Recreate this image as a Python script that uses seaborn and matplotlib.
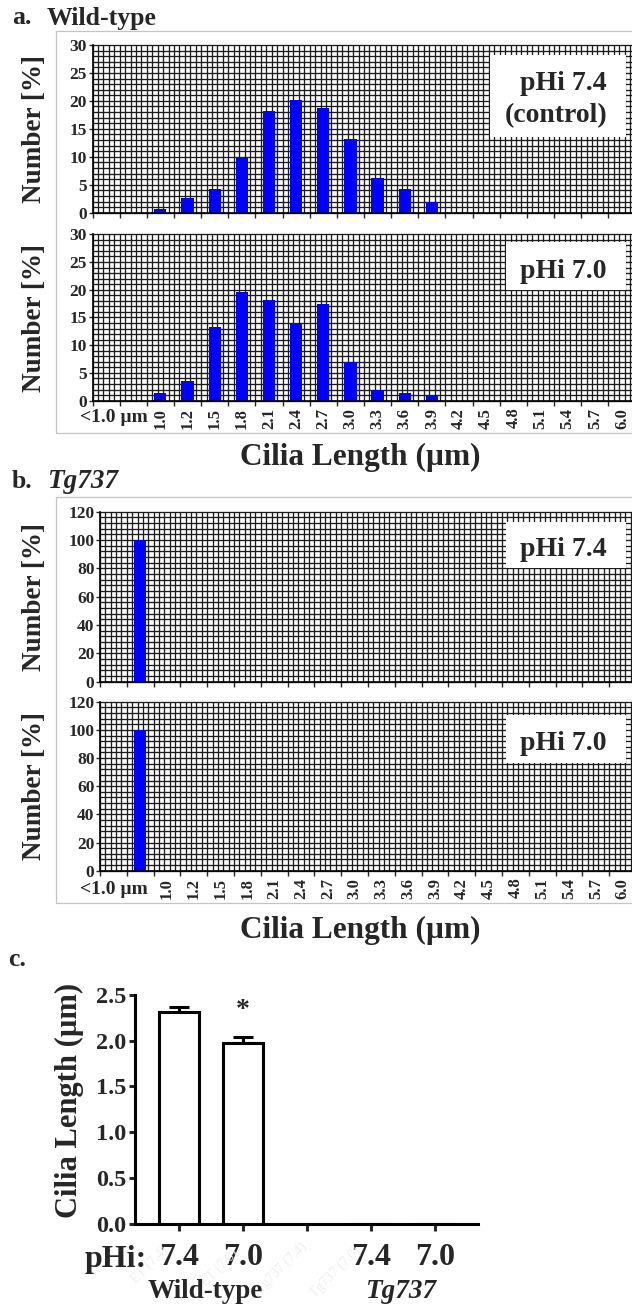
import numpy as np
import pandas as pd
import matplotlib
matplotlib.use("Agg")
import matplotlib.pyplot as plt
import seaborn as sns
from matplotlib.patches import Rectangle

# ---------------- data ----------------
bins = ["0", "<1.0", "1.0", "1.2", "1.5", "1.8", "2.1", "2.4", "2.7", "3.0",
        "3.3", "3.6", "3.9", "4.2", "4.5", "4.8", "5.1", "5.4", "5.7", "6.0"]
wt_ph74 = [0, 0, 0.7, 2.7, 4.2, 9.7, 18.2, 20.2, 18.8, 13.2,
           6.2, 4.2, 2.0, 0, 0, 0, 0, 0, 0, 0]
wt_ph70 = [0, 0, 1.4, 3.5, 13.2, 19.5, 18.2, 13.9, 17.4, 7.0,
           2.0, 1.4, 0.8, 0, 0, 0, 0, 0, 0, 0]
tg_ph74 = [0, 100, 0, 0, 0, 0, 0, 0, 0, 0,
           0, 0, 0, 0, 0, 0, 0, 0, 0, 0]
tg_ph70 = [0, 100, 0, 0, 0, 0, 0, 0, 0, 0,
           0, 0, 0, 0, 0, 0, 0, 0, 0, 0]

c_groups = ["WT 7.4", "WT 7.0", "Tg737 7.4", "Tg737 7.0"]
c_mean = [2.31, 1.98, 0.0, 0.0]
c_sem = [0.06, 0.06, 0.0, 0.0]
c_order = ["WT 7.4", "WT 7.0", "gap", "Tg737 7.4", "Tg737 7.0"]
c_ticklabels = ["7.4", "7.0", "", "7.4", "7.0"]

# ---------------- style ----------------
sns.set_style("white")
plt.rcParams["font.family"] = ["Liberation Serif", "DejaVu Serif"]
plt.rcParams["font.weight"] = "bold"
plt.rcParams["axes.labelweight"] = "bold"

W, H = 632, 1310
fig = plt.figure(figsize=(W / 100, H / 100), dpi=100)
fig.patch.set_facecolor("white")


def px_axes(left, top, right, bottom):
    return fig.add_axes([left / W, 1 - bottom / H, (right - left) / W, (bottom - top) / H])


def ftext(x, y, s, **kw):
    return fig.text(x / W, 1 - y / H, s, **kw)


def frect(x0, y0, x1, y1, **kw):
    r = Rectangle((x0 / W, 1 - y1 / H), (x1 - x0) / W, (y1 - y0) / H,
                  transform=fig.transFigure, **kw)
    fig.add_artist(r)
    return r


GRID = "#1c1c1c"


def hist_panel(ax, values, ymax, major, minor, show_labels):
    df = pd.DataFrame({"bin": bins, "pct": values})
    sns.barplot(data=df, x="bin", y="pct", order=bins, color="#0000FF",
                width=0.45, saturation=1, linewidth=0, ax=ax, zorder=3)
    n = len(bins)
    ax.set_xlim(-0.5, n - 0.5)
    ax.set_ylim(0, ymax)
    xs = np.arange(-0.5, n - 0.5 + 1e-6, 0.2)
    ax.vlines(xs, 0, ymax, color=GRID, lw=0.95, zorder=1, clip_on=False)
    ys = np.arange(0, ymax + 1e-6, minor)
    ax.hlines(ys, -0.5, n - 0.5, color=GRID, lw=0.95, zorder=1, clip_on=False)
    for s in ["top", "right"]:
        ax.spines[s].set_visible(False)
    for s in ["left", "bottom"]:
        ax.spines[s].set_color("black")
        ax.spines[s].set_linewidth(1.2)
        ax.spines[s].set_zorder(4)
    ax.set_yticks(np.arange(0, ymax + 1e-6, major))
    ax.set_yticklabels([f"{int(v)}" for v in np.arange(0, ymax + 1e-6, major)],
                       fontsize=12.5, fontweight="bold")
    ax.tick_params(axis="y", direction="out", length=3, width=1, pad=1, left=True)
    ax.set_xticks(np.arange(n))
    if show_labels:
        labs = ["", ""] + bins[2:]
    else:
        labs = [""] * n
    ax.set_xticklabels(labs, rotation=90, fontsize=12, fontweight="bold")
    ax.tick_params(axis="x", which="major", length=0, pad=5, bottom=True)
    ax.set_xticks(np.arange(-0.5, n - 0.5 + 1e-6, 1), minor=True)
    ax.tick_params(axis="x", which="minor", direction="out", length=3.5, width=1, bottom=True)
    ax.set_xlabel("")
    ax.set_ylabel("")
    ax.set_facecolor("white")


# outer light frames for panels a and b
frect(55.7, 31, 660, 432.7, fill=False, edgecolor="#c4c4c4", lw=0.9, zorder=0)
frect(55.7, 496.7, 660, 903, fill=False, edgecolor="#c4c4c4", lw=0.9, zorder=0)

# ---------------- panel a ----------------
ax1 = px_axes(92.5, 45, 635.5, 212.7)
hist_panel(ax1, wt_ph74, 30, 5, 1, False)
ax2 = px_axes(92.5, 234.2, 635.5, 400.7)
hist_panel(ax2, wt_ph70, 30, 5, 1, True)

# ---------------- panel b ----------------
ax3 = px_axes(100, 511.7, 636, 681.7)
hist_panel(ax3, tg_ph74, 120, 20, 4, False)
ax4 = px_axes(100, 701.7, 636, 870.7)
hist_panel(ax4, tg_ph70, 120, 20, 4, True)

# "<1.0 µm" category labels
ftext(113.8, 418, "<1.0 µm", fontsize=14, fontweight="bold", ha="center", va="center")
ftext(114.3, 890, "<1.0 µm", fontsize=14, fontweight="bold", ha="center", va="center")

# y labels and x labels
for yc in [129, 317.5, 596.7, 786.2]:
    ftext(34.5, yc, "Number [%]", rotation=90, fontsize=19.5, fontweight="bold",
          ha="center", va="center")
ftext(360, 457, "Cilia Length (µm)", fontsize=22.5, fontweight="bold", ha="center", va="center")
ftext(360, 930, "Cilia Length (µm)", fontsize=22.5, fontweight="bold", ha="center", va="center")

# in-plot condition boxes
boxes = [
    (490, 55, 625.5, 137.3, [("pHi 7.4", 83.3), ("(control)", 116)]),
    (506, 241.7, 625.5, 290, [("pHi 7.0", 271)]),
    (506, 521.7, 625.5, 568.3, [("pHi 7.4", 550)]),
    (506, 715, 625.5, 763.3, [("pHi 7.0", 744)]),
]
for x0, y0, x1, y1, lines in boxes:
    frect(x0, y0, x1, y1, facecolor="white", edgecolor="none", zorder=5)
    for s, yy in lines:
        t = ftext(607, yy, s, fontsize=20, fontweight="bold", ha="right", va="center")
        t.set_zorder(6)

# panel titles
ftext(12, 18, "a.", fontsize=18.5, fontweight="bold", ha="left", va="center")
ftext(47, 18, "Wild-type", fontsize=18.5, fontweight="bold", ha="left", va="center")
ftext(12, 482, "b.", fontsize=18.5, fontweight="bold", ha="left", va="center")
ftext(47, 482, "Tg737", fontsize=19.5, fontweight="bold", style="italic", ha="left", va="center")
ftext(8, 960, "c.", fontsize=18.5, fontweight="bold", ha="left", va="center")

# ---------------- panel c ----------------
axc = px_axes(134.5, 995, 478.3, 1223.5)
dfc = pd.DataFrame({"group": c_groups, "mean": c_mean})
sns.barplot(data=dfc, x="group", y="mean", order=c_order, color="white",
            edgecolor="black", linewidth=2.2, width=0.62, saturation=1,
            errorbar=None, ax=axc, zorder=3)
pos = [c_order.index(g) for g in c_groups]
for p, m, e in zip(pos, c_mean, c_sem):
    if m > 0:
        axc.errorbar([p], [m], yerr=[[0], [e]], fmt="none", ecolor="black",
                     elinewidth=2.2, capsize=7.5, capthick=2.2, zorder=2)
# significance mark
axc.text(pos[1], c_mean[1] + c_sem[1] + 0.29, "*", fontsize=20, fontweight="bold",
         ha="center", va="center")
axc.set_xlim(-0.69, 4.67)
axc.set_ylim(0, 2.5)
for s in ["top", "right"]:
    axc.spines[s].set_visible(False)
for s in ["left", "bottom"]:
    axc.spines[s].set_color("black")
    axc.spines[s].set_linewidth(2.2)
axc.set_yticks(np.arange(0, 2.51, 0.5))
axc.set_yticklabels([f"{v:.1f}" for v in np.arange(0, 2.51, 0.5)], fontsize=17.5, fontweight="bold")
axc.tick_params(axis="y", direction="out", length=4, width=2.2, pad=2, left=True)
axc.set_xticks(range(len(c_order)))
axc.set_xticklabels(c_ticklabels, fontsize=23, fontweight="bold")
axc.tick_params(axis="x", direction="out", length=5, width=2.2, pad=9, bottom=True)
axc.set_xlabel("")
axc.set_ylabel("")
axc.set_facecolor("white")

ftext(69, 1100, "Cilia Length (µm)", rotation=90, fontsize=22, fontweight="bold",
      ha="center", va="center")
ftext(147, 1267, "pHi:", fontsize=23, fontweight="bold", ha="right", va="baseline")
ftext(205, 1291, "Wild-type", fontsize=19.5, fontweight="bold", ha="center", va="center")
ftext(401, 1291, "Tg737", fontsize=19.5, fontweight="bold", style="italic",
      ha="center", va="center")

# faint watermark labels
for x, y, s in [(150, 1265, "ET (7.4)"), (220, 1268, "ET (7.0)"),
                (282, 1268, "Tg737 (7.4)"), (335, 1272, "Tg737 (7.0)")]:
    ftext(x, y, s, fontsize=10, color="#eeeeee", rotation=45, ha="center",
          va="center", fontweight="normal", zorder=0)

fig.savefig("out.png", dpi=100, facecolor="white")
